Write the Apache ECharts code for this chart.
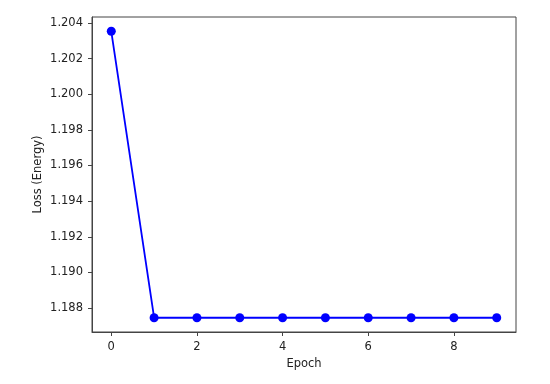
<!DOCTYPE html>
<html>
<head>
<meta charset="utf-8">
<script src="https://cdn.jsdelivr.net/npm/echarts@6/dist/echarts.min.js"></script>
<style>
  html, body { margin: 0; padding: 0; background: #fff; }
  #main { width: 550px; height: 384px; }
</style>
</head>
<body>
<div id="main"></div>
<script>
// data
var epochs = [0, 1, 2, 3, 4, 5, 6, 7, 8, 9];
var loss = [1.20353, 1.18746, 1.18746, 1.18746, 1.18746, 1.18746, 1.18746, 1.18746, 1.18746, 1.18746];
var xTicks = [0, 2, 4, 6, 8];
var yTicks = [1.188, 1.190, 1.192, 1.194, 1.196, 1.198, 1.200, 1.202, 1.204];

var chart = echarts.init(document.getElementById('main'), null, { renderer: 'canvas' });

var axisFont = { fontFamily: 'DejaVu Sans', fontSize: 11.5, color: '#222' };

chart.setOption({
  animation: false,
  grid: { left: 92, right: 34, top: 17, bottom: 52 },
  xAxis: {
    type: 'value',
    min: -0.45,
    max: 9.45,
    name: 'Epoch',
    nameLocation: 'middle',
    nameGap: 24,
    nameTextStyle: axisFont,
    splitLine: { show: false },
    axisLine: { show: true, onZero: false, lineStyle: { color: '#444', width: 1 } },
    axisTick: { show: true, length: 4, lineStyle: { color: '#444' }, customValues: xTicks },
    axisLabel: Object.assign({ margin: 9, customValues: xTicks, formatter: function (v) { return String(v); } }, axisFont)
  },
  yAxis: {
    type: 'value',
    min: 1.18666,
    max: 1.20433,
    name: 'Loss (Energy)',
    nameLocation: 'middle',
    nameGap: 48,
    nameMoveOverlap: false,
    nameRotate: 90,
    nameTextStyle: axisFont,
    splitLine: { show: false },
    axisLine: { show: true, onZero: false, lineStyle: { color: '#444', width: 1 } },
    axisTick: { show: true, length: 4, lineStyle: { color: '#444' }, customValues: yTicks },
    axisLabel: Object.assign({ margin: 9, customValues: yTicks, formatter: function (v) { return v.toFixed(3); } }, axisFont)
  },
  series: [
    {
      type: 'line',
      data: epochs.map(function (e, i) { return [e, loss[i]]; }),
      symbol: 'circle',
      symbolSize: 9,
      lineStyle: { color: '#0000ff', width: 1.8 },
      itemStyle: { color: '#0000ff' }
    }
  ]
});

// top and right frame lines
chart.setOption({
  graphic: [
    { type: 'rect', shape: { x: 92, y: 17, width: 424, height: 315 }, style: { fill: 'none', stroke: '#444', lineWidth: 1 }, silent: true }
  ]
});
</script>
</body>
</html>
